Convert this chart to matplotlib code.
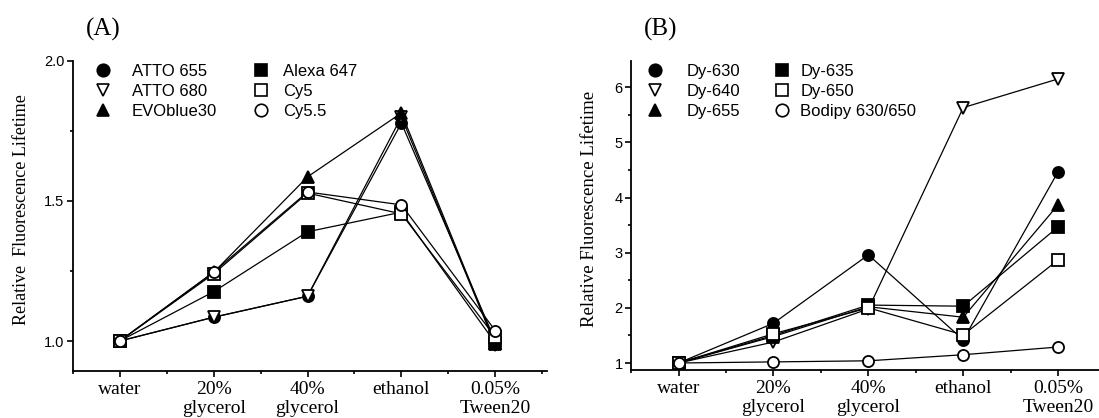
import matplotlib as mpl
mpl.use("Agg")
import matplotlib.pyplot as plt
from matplotlib.lines import Line2D
from matplotlib.ticker import MultipleLocator

mpl.rcParams["font.family"] = "Liberation Sans"
SERIF = "Liberation Serif"

categories = ["water", "20%\nglycerol", "40%\nglycerol", "ethanol", "0.05%\nTween20"]

# panel A
atto655 = [1.00, 1.085, 1.16, 1.778, 1.00]
atto680 = [1.00, 1.085, 1.16, 1.80, 0.985]
evoblue30 = [1.00, 1.245, 1.586, 1.814, 0.99]
alexa647 = [1.00, 1.176, 1.39, 1.46, 0.993]
cy5 = [1.00, 1.24, 1.528, 1.454, 1.014]
cy55 = [1.00, 1.246, 1.532, 1.486, 1.037]

# panel B
dy630 = [1.00, 1.72, 2.96, 1.42, 4.47]
dy640 = [1.00, 1.38, 1.98, 5.63, 6.15]
dy655 = [1.00, 1.48, 2.02, 1.83, 3.87]
dy635 = [1.00, 1.50, 2.05, 2.03, 3.47]
dy650 = [1.00, 1.53, 2.00, 1.51, 2.87]
bodipy = [1.00, 1.02, 1.04, 1.15, 1.29]

# (label, values, marker, filled)
series_a = [("ATTO 655", atto655, "o", True),
            ("ATTO 680", atto680, "v", False),
            ("EVOblue30", evoblue30, "^", True),
            ("Alexa 647", alexa647, "s", True),
            ("Cy5", cy5, "s", False),
            ("Cy5.5", cy55, "o", False)]
series_b = [("Dy-630", dy630, "o", True),
            ("Dy-640", dy640, "v", False),
            ("Dy-655", dy655, "^", True),
            ("Dy-635", dy635, "s", True),
            ("Dy-650", dy650, "s", False),
            ("Bodipy 630/650", bodipy, "o", False)]


def draw_panel(ax, series, ylim, major, minor, xmax):
    x = range(len(categories))
    handles = []
    for label, vals, m, filled in series:
        fc = "black" if filled else "white"
        ax.plot(x, vals, color="black", lw=0.9, marker=m, ms=8,
                mfc=fc, mec="black", mew=1.3)
        handles.append(Line2D([], [], ls="none", marker=m, ms=9,
                              mfc=fc, mec="black", mew=1.2))
    ax.set_xlim(-0.5, xmax)
    ax.set_ylim(*ylim)
    ax.xaxis.set_minor_locator(MultipleLocator(0.5))
    ax.yaxis.set_major_locator(MultipleLocator(major))
    ax.yaxis.set_minor_locator(MultipleLocator(minor))
    for s in ["top", "right"]:
        ax.spines[s].set_visible(False)
    for s in ["left", "bottom"]:
        ax.spines[s].set_linewidth(1.3)
    ax.tick_params(which="major", length=4, width=1.2)
    ax.tick_params(which="minor", length=2.5, width=1.2)
    ax.tick_params(axis="y", labelsize=10.5, pad=2)
    ax.tick_params(axis="x", pad=3)
    ax.set_xticks(list(x))
    ax.set_xticklabels(categories, family=SERIF, fontsize=14, linespacing=1.2)
    return handles


fig = plt.figure(figsize=(10.99, 4.18), dpi=100)
ax_a = fig.add_axes([0.0662, 0.1124, 0.4315, 0.742])
ax_b = fig.add_axes([0.5742, 0.1148, 0.4258, 0.740])

h_a = draw_panel(ax_a, series_a, (0.893, 2.0), 0.5, 0.25, 4.55)
ax_a.yaxis.set_major_formatter(mpl.ticker.FormatStrFormatter("%.1f"))
h_b = draw_panel(ax_b, series_b, (0.873, 6.48), 1, 0.5, 4.43)

ax_a.set_ylabel("Relative  Fluorescence Lifetime", family=SERIF, fontsize=13)
ax_a.yaxis.set_label_coords(-0.09, 0.52)
ax_b.set_ylabel("Relative Fluorescence Lifetime", family=SERIF, fontsize=13.5)
ax_b.yaxis.set_label_coords(-0.07, 0.52)

fig.text(0.094, 0.93, "(A)", family=SERIF, fontsize=18, va="center", ha="center")
fig.text(0.601, 0.93, "(B)", family=SERIF, fontsize=18, va="center", ha="center")


def col_legend(ax, handles, labels, x, pad):
    leg = ax.legend(handles, labels, loc="upper left", bbox_to_anchor=(x, 0.99),
                    frameon=False, fontsize=12, handlelength=1.0,
                    handletextpad=pad, labelspacing=0.3, borderaxespad=0,
                    borderpad=0)
    ax.legend_ = None
    ax.add_artist(leg)


labs_a = [s[0] for s in series_a]
col_legend(ax_a, h_a[:3], labs_a[:3], 0.046, 1.25)
col_legend(ax_a, h_a[3:], labs_a[3:], 0.38, 0.8)
labs_b = [s[0] for s in series_b]
col_legend(ax_b, h_b[:3], labs_b[:3], 0.034, 1.4)
col_legend(ax_b, h_b[3:], labs_b[3:], 0.305, 0.6)

fig.savefig("out.png", dpi=100)
